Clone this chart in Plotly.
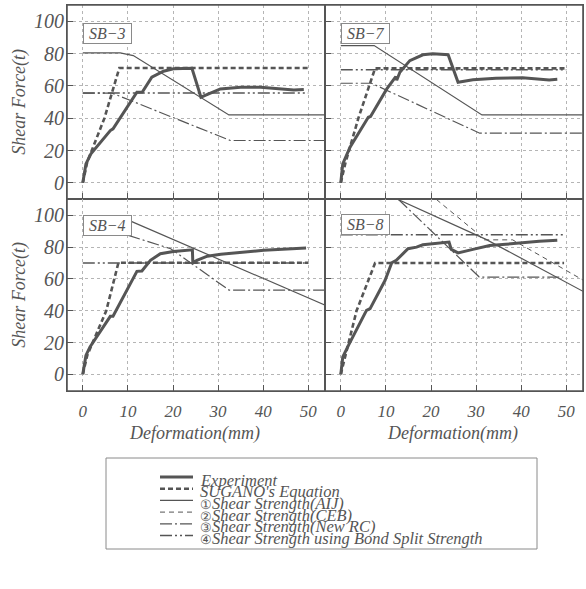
import plotly.graph_objects as go
from plotly.subplots import make_subplots

# ---------------- data ----------------
x_ticks = [0, 10, 20, 30, 40, 50]
y_ticks = [0, 20, 40, 60, 80, 100]

# SB-3
exp3_x = [0, 0.7, 1.8, 6.1, 6.7, 11.6, 12, 13.2, 15.3, 17.9, 20.1, 24.2, 26.2, 30.5, 35, 39.4, 46.8, 49]
exp3_y = [0, 11.7, 17.9, 32.3, 33.4, 54, 56, 56.2, 65.3, 69, 70.5, 70.9, 53, 58.1, 59.1, 59.1, 57.5, 57.8]
sug3_x = [0, 1, 4.8, 8.1, 50]
sug3_y = [0, 13, 40, 71, 71]
aij3_x = [0, 8.3, 11.2, 32.4, 53.7]
aij3_y = [80.4, 80.4, 78.7, 42, 42]
rc3_x = [0, 6.5, 32.7, 53.7]
rc3_y = [55.5, 55.5, 26.2, 26.2]
bond3_x = [0, 50]
bond3_y = [55.5, 55.5]

# SB-7
exp7_x = [0, 0.44, 2.05, 6.1, 6.6, 10.2, 12.2, 12.4, 13.1, 15.3, 18.2, 20.4, 23.8, 26, 29.3, 34.4, 40.3, 44, 46.2, 48]
exp7_y = [0, 11.7, 22, 40.6, 41, 58.1, 65.7, 63.5, 68.4, 75.6, 79.2, 79.8, 79.3, 62.2, 63.7, 64.7, 65, 64.4, 63.6, 64]
sug7_x = [0, 1, 3.9, 7.6, 50]
sug7_y = [0, 12, 40, 70.8, 70.8]
aij7_x = [0, 7.4, 31.3, 53.7]
aij7_y = [84.9, 84.9, 42, 42]
rc7_x = [0, 6.8, 30.8, 53.7]
rc7_y = [61.6, 61.6, 30.7, 30.7]
bond7_x = [0, 50]
bond7_y = [69.9, 69.9]

# SB-4
exp4_x = [0, 0.7, 1.6, 6.1, 6.7, 12, 13.1, 15, 17.2, 20.1, 24.3, 24.4, 25.3, 27.6, 30.6, 33.5, 40.1, 49.5]
exp4_y = [0, 11.9, 17.2, 36.5, 36.5, 64.8, 65, 71.7, 75.9, 77.3, 78.3, 70.1, 71.7, 74.3, 75.6, 76.4, 78, 79.4]
sug4_x = [0, 1, 5.2, 7.9, 50]
sug4_y = [0, 12, 40, 70.2, 70.2]
aij4_x = [10.1, 53.8]
aij4_y = [97, 43.4]
rc4_x = [10.1, 19.5, 32.4, 53.8]
rc4_y = [87.4, 79, 53, 53]
bond4_x = [0, 50]
bond4_y = [70, 70]

# SB-8
exp8_x = [0, 0.44, 1.7, 5.7, 6.5, 9.8, 11.3, 12.3, 14.9, 16.8, 18.2, 21.9, 24, 24.5, 26, 29.3, 33, 36.6, 40.3, 44, 48]
exp8_y = [0, 10.9, 18.2, 40.2, 41.3, 59, 70.2, 71.7, 79, 80, 81.5, 82.5, 83.2, 78.6, 76.4, 78.6, 81, 81.8, 82.8, 83.7, 84.4]
sug8_x = [0, 1, 3.5, 7.6, 49.5]
sug8_y = [0, 12, 40, 70, 70]
aij8_x = [12.7, 30.4, 32.2, 53.7]
aij8_y = [110, 87.4, 84.9, 52.2]
ceb8_x = [21.2, 30, 31.5, 38.1, 53.7]
ceb8_y = [110, 89.4, 84.6, 84.6, 59.3]
rc8_x = [12.8, 30.7, 49.3]
rc8_y = [110, 61.2, 61.2]
bond8_x = [0, 49.5]
bond8_y = [87.8, 87.8]

specimens = ["SB−3", "SB−7", "SB−4", "SB−8"]
legend_names = [
    "Experiment",
    "SUGANO's Equation",
    "①Shear Strength(AIJ)",
    "②Shear Strength(CEB)",
    "③Shear Strength(New RC)",
    "④Shear Strength using Bond Split Strength",
]

# ---------------- styles ----------------
C = "#555555"
FONT = "Liberation Serif, Times New Roman, serif"
styles = {
    "exp": dict(color=C, width=3, dash="solid"),
    "sug": dict(color=C, width=2.6, dash="5px,3px"),
    "aij": dict(color=C, width=1.2, dash="solid"),
    "ceb": dict(color=C, width=1, dash="5px,4px"),
    "rc": dict(color=C, width=1.2, dash="12px,3px,2px,3px"),
    "bond": dict(color=C, width=1.5, dash="12px,3px,2px,3px,2px,3px"),
}

panels = [
    (1, 1, {"aij": (aij3_x, aij3_y), "rc": (rc3_x, rc3_y), "bond": (bond3_x, bond3_y),
            "sug": (sug3_x, sug3_y), "exp": (exp3_x, exp3_y)}),
    (1, 2, {"aij": (aij7_x, aij7_y), "rc": (rc7_x, rc7_y), "bond": (bond7_x, bond7_y),
            "sug": (sug7_x, sug7_y), "exp": (exp7_x, exp7_y)}),
    (2, 1, {"aij": (aij4_x, aij4_y), "rc": (rc4_x, rc4_y), "bond": (bond4_x, bond4_y),
            "sug": (sug4_x, sug4_y), "exp": (exp4_x, exp4_y)}),
    (2, 2, {"aij": (aij8_x, aij8_y), "ceb": (ceb8_x, ceb8_y), "rc": (rc8_x, rc8_y),
            "bond": (bond8_x, bond8_y), "sug": (sug8_x, sug8_y), "exp": (exp8_x, exp8_y)}),
]

fig = make_subplots(rows=2, cols=2, horizontal_spacing=0, vertical_spacing=0,
                    row_heights=[194, 192])

for r, c, series in panels:
    for key, (xs, ys) in series.items():
        fig.add_trace(go.Scatter(x=xs, y=ys, mode="lines", line=styles[key],
                                 showlegend=False, hoverinfo="skip"), row=r, col=c)

axis_common = dict(showline=True, linecolor=C, linewidth=1, mirror=True,
                   ticks="inside", ticklen=6, tickwidth=1.3, tickcolor=C,
                   showgrid=True, gridcolor="#b5b5b5", gridwidth=1, griddash="dot",
                   zeroline=False)

for r in (1, 2):
    for c in (1, 2):
        fig.update_xaxes(range=[-3.5, 53.7], tickvals=x_ticks,
                         showticklabels=(r == 2), ticklabelstandoff=5,
                         tickfont=dict(family=FONT, size=17, color=C, style="italic"),
                         row=r, col=c, **axis_common)
        yr = [-10, 110] if r == 1 else [-10.5, 110.3]
        fig.update_yaxes(range=yr, tickvals=y_ticks, showticklabels=(c == 1),
                         ticklabelstandoff=-2,
                         tickfont=dict(family=FONT, size=20, color=C, style="italic"),
                         row=r, col=c, **axis_common)

annotations = []
# specimen label boxes
refs = [("x", "y", 99), ("x2", "y2", 99), ("x3", "y3", 100.5), ("x4", "y4", 101)]
for name, (xr, yr_, ytop) in zip(specimens, refs):
    annotations.append(dict(x=0, y=ytop, xref=xr, yref=yr_, xanchor="left", yanchor="top",
                            text="<i>\u00a0" + name + "\u00a0</i>", showarrow=False,
                            font=dict(family=FONT, size=16, color=C),
                            bordercolor="#8a8a8a", borderwidth=1, borderpad=1,
                            bgcolor="white"))

W, H = 516.0, 386.0
L, T = 67.0, 5.0


def px2paper(px, py):
    return (px - L) / W, 1 - (py - T) / H


# axis titles
for py in (101.7, 294.7):
    xx, yy = px2paper(20, py)
    annotations.append(dict(x=xx, y=yy, xref="paper", yref="paper", text="<i>Shear Force(t)</i>",
                            textangle=-90, showarrow=False, xanchor="center", yanchor="middle",
                            font=dict(family=FONT, size=18, color=C)))
for pxc in (194, 452):
    xx, yy = px2paper(pxc, 433)
    annotations.append(dict(x=xx, y=yy, xref="paper", yref="paper", text="<i>Deformation(mm)</i>",
                            showarrow=False, xanchor="center", yanchor="middle",
                            font=dict(family=FONT, size=18, color=C)))

shapes = []
# outer frame (slightly heavier than the inner dividers)
shapes.append(dict(type="rect", xref="paper", yref="paper", x0=0, y0=0, x1=1, y1=1,
                   line=dict(color=C, width=1.6)))
# legend box
x0, y0 = px2paper(106, 458)
x1, y1 = px2paper(537, 549)
shapes.append(dict(type="rect", xref="paper", yref="paper", x0=x0, y0=y1, x1=x1, y1=y0,
                   line=dict(color="#8a8a8a", width=1), fillcolor="white", layer="below"))

keys = ["exp", "sug", "aij", "ceb", "rc", "bond"]
for i, (k, name) in enumerate(zip(keys, legend_names)):
    ty = 480 + 11.7 * i
    sx0, sy = px2paper(160, ty - 3)
    sx1, _ = px2paper(193, ty - 3)
    st = styles[k]
    shapes.append(dict(type="line", xref="paper", yref="paper", x0=sx0, x1=sx1, y0=sy, y1=sy,
                       line=dict(color=st["color"], width=st["width"], dash=st["dash"])))
    tx, tyy = px2paper(198, ty)
    if name[0] in "①②③④":
        txt = "<span style='font-size:13px'>" + name[0] + "</span><i>" + name[1:] + "</i>"
    else:
        txt = "<i>" + name + "</i>"
    annotations.append(dict(x=tx, y=tyy, xref="paper", yref="paper", xanchor="left",
                            yanchor="middle", text=txt, showarrow=False,
                            font=dict(family=FONT, size=16.5, color=C)))

fig.update_layout(width=586, height=589, margin=dict(l=67, r=3, t=5, b=198),
                  plot_bgcolor="white", paper_bgcolor="white", showlegend=False,
                  annotations=annotations, shapes=shapes,
                  font=dict(family=FONT, color=C))

fig.write_html("out.html", config={"displayModeBar": False},
               post_script="document.body.style.margin='0px';document.body.style.overflow='hidden';")
